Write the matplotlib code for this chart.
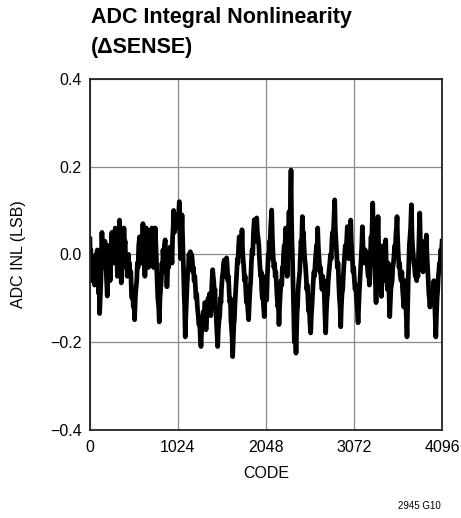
import matplotlib
matplotlib.use("Agg")
import matplotlib.pyplot as plt

# ADC INL (LSB) versus output code
inl_trace = [
    (0, 0.035), (6, -0.02), (10, 0.01), (16, -0.06), (24, -0.03), (30, -0.01),
    (38, -0.05), (46, -0.03), (54, -0.07), (62, -0.04), (70, 0.0), (78, -0.02),
    (86, 0.01), (95, -0.05), (104, -0.09), (110, -0.07), (113, -0.135),
    (120, -0.10), (128, -0.06), (134, 0.0), (140, 0.05), (148, 0.0),
    (154, 0.02), (160, -0.03), (168, -0.01), (174, 0.03), (180, 0.02),
    (188, -0.03), (195, -0.06), (202, -0.095), (208, -0.04), (212, 0.0),
    (217, 0.02), (225, -0.02), (230, -0.01), (235, -0.06), (242, -0.02),
    (248, 0.01), (256, 0.05), (262, 0.0), (268, 0.02), (275, -0.02),
    (282, 0.02), (288, 0.0), (295, 0.06), (302, 0.01), (310, 0.02),
    (320, -0.05), (328, 0.0), (336, 0.03), (345, 0.078), (352, 0.02),
    (358, 0.0), (365, -0.065), (372, -0.02), (380, 0.02), (388, 0.01),
    (396, 0.06), (404, 0.02), (410, 0.03), (415, -0.01), (422, -0.03),
    (428, -0.01), (434, -0.05), (440, -0.03), (448, 0.0), (455, -0.03),
    (460, -0.02), (468, -0.05), (476, -0.04), (484, -0.09), (490, -0.10),
    (498, -0.08), (505, -0.12), (512, -0.10), (520, -0.149),
    (528, -0.10), (535, -0.08), (545, -0.06), (552, -0.02), (560, -0.03),
    (568, 0.02), (578, 0.04), (585, 0.0), (592, 0.01), (600, -0.02),
    (608, 0.02), (617, 0.07), (624, 0.02), (632, -0.01), (640, -0.05),
    (648, 0.0), (656, 0.06), (664, 0.02), (672, 0.03), (680, -0.03),
    (688, 0.0), (696, -0.02), (704, 0.03), (712, 0.02), (721, 0.06),
    (730, 0.0), (740, -0.03), (748, 0.01), (754, 0.0), (760, 0.06),
    (768, 0.02), (775, -0.02), (780, -0.05), (790, -0.10), (800, -0.12),
    (807, -0.154), (815, -0.10), (822, -0.08), (830, -0.06), (838, -0.02),
    (845, -0.04), (850, 0.01), (858, -0.01), (866, 0.02), (876, 0.033),
    (884, -0.02), (890, -0.04), (896, -0.074), (904, -0.04), (910, -0.01),
    (915, -0.03), (922, 0.0), (928, -0.01), (935, 0.017), (942, -0.01),
    (948, 0.0), (955, -0.02), (962, 0.04), (968, 0.06), (974, 0.10),
    (982, 0.05), (990, 0.08), (1000, 0.06), (1008, 0.09), (1014, 0.07),
    (1020, 0.09), (1028, 0.06), (1034, 0.10), (1040, 0.12), (1046, 0.05),
    (1050, 0.02), (1055, -0.01), (1062, 0.03), (1071, 0.09), (1078, 0.04),
    (1084, -0.01), (1090, -0.05), (1096, -0.09), (1102, -0.12),
    (1109, -0.188), (1116, -0.14), (1122, -0.11), (1130, -0.07),
    (1138, -0.04), (1146, -0.03), (1152, 0.0), (1160, -0.01), (1168, 0.006),
    (1176, -0.02), (1182, 0.0), (1190, -0.01), (1198, -0.04), (1205, -0.03),
    (1212, -0.06), (1220, -0.05), (1226, -0.07), (1234, -0.10),
    (1242, -0.09), (1250, -0.12), (1260, -0.14), (1268, -0.16),
    (1276, -0.15), (1284, -0.19), (1292, -0.21), (1300, -0.17),
    (1310, -0.15), (1320, -0.13), (1328, -0.15), (1336, -0.11),
    (1342, -0.11), (1347, -0.14), (1350, -0.172), (1358, -0.14),
    (1366, -0.12), (1375, -0.10), (1382, -0.12), (1390, -0.09),
    (1395, -0.09), (1400, -0.12), (1405, -0.14), (1412, -0.10),
    (1420, -0.06), (1428, -0.035), (1434, -0.05), (1440, -0.06),
    (1448, -0.09), (1455, -0.08), (1460, -0.12), (1468, -0.14),
    (1476, -0.17), (1486, -0.21), (1494, -0.17), (1502, -0.15),
    (1510, -0.14), (1518, -0.10), (1524, -0.11), (1530, -0.08),
    (1540, -0.05), (1548, -0.04), (1555, -0.02), (1563, -0.013),
    (1570, -0.04), (1575, -0.05), (1582, -0.02), (1590, -0.008),
    (1598, -0.03), (1605, -0.06), (1612, -0.05), (1620, -0.09),
    (1628, -0.11), (1634, -0.10), (1640, -0.15), (1648, -0.17),
    (1654, -0.19), (1660, -0.233), (1668, -0.19), (1674, -0.16),
    (1680, -0.15), (1688, -0.11), (1694, -0.09), (1700, -0.07),
    (1708, -0.04), (1716, -0.01), (1722, -0.02), (1730, 0.02), (1737, 0.04),
    (1744, 0.0), (1750, 0.0), (1758, 0.03), (1764, 0.02), (1769, 0.056),
    (1776, 0.01), (1782, -0.01), (1790, -0.03), (1798, -0.06),
    (1806, -0.05), (1815, -0.09), (1822, -0.11), (1830, -0.10),
    (1838, -0.13), (1846, -0.149), (1854, -0.11), (1862, -0.08),
    (1870, -0.06), (1878, -0.02), (1886, 0.01), (1894, 0.0), (1902, 0.05),
    (1912, 0.079), (1918, 0.04), (1925, 0.03), (1932, 0.06), (1940, 0.083),
    (1948, 0.05), (1955, 0.04), (1965, 0.02), (1972, -0.01), (1978, -0.03),
    (1985, -0.05), (1992, -0.04), (1998, -0.08), (2005, -0.10),
    (2012, -0.09), (2020, -0.12), (2028, -0.142), (2036, -0.09),
    (2045, -0.05), (2050, -0.08), (2056, -0.104), (2064, -0.05),
    (2070, -0.02), (2075, 0.0), (2082, -0.01), (2090, 0.03), (2095, 0.02),
    (2102, 0.06), (2108, 0.08), (2114, 0.101), (2122, 0.04), (2130, 0.0),
    (2140, -0.03), (2148, -0.02), (2155, -0.05), (2162, -0.04),
    (2170, -0.07), (2178, -0.10), (2186, -0.12), (2192, -0.11),
    (2199, -0.16), (2206, -0.12), (2214, -0.09), (2225, -0.06),
    (2232, -0.07), (2238, -0.03), (2245, -0.04), (2252, 0.0), (2260, 0.02),
    (2268, 0.01), (2277, 0.06), (2284, 0.01), (2290, -0.02), (2295, -0.05),
    (2302, 0.0), (2308, 0.04), (2316, 0.097), (2322, 0.06), (2330, 0.10),
    (2339, 0.192), (2345, 0.08), (2350, 0.03), (2355, 0.0), (2362, -0.06),
    (2368, -0.12), (2378, -0.2), (2386, -0.16), (2392, -0.19),
    (2397, -0.225), (2404, -0.17), (2410, -0.13), (2415, -0.12),
    (2422, -0.08), (2430, -0.06), (2440, -0.04), (2448, 0.0), (2455, 0.03),
    (2462, 0.02), (2471, 0.086), (2478, 0.04), (2484, 0.05), (2490, 0.02),
    (2498, -0.01), (2505, -0.02), (2515, -0.05), (2522, -0.08),
    (2530, -0.07), (2538, -0.11), (2545, -0.13), (2552, -0.12),
    (2560, -0.16), (2568, -0.179), (2575, -0.14), (2582, -0.12),
    (2590, -0.09), (2598, -0.06), (2606, -0.04), (2612, -0.05),
    (2620, -0.02), (2628, 0.0), (2636, 0.02), (2642, 0.01), (2649, 0.06),
    (2656, 0.02), (2662, 0.0), (2668, -0.02), (2675, -0.04), (2682, -0.03),
    (2690, -0.06), (2700, -0.08), (2708, -0.05), (2714, -0.07),
    (2720, -0.06), (2726, -0.09), (2732, -0.13), (2742, -0.179),
    (2750, -0.13), (2758, -0.10), (2765, -0.09), (2772, -0.06),
    (2780, -0.04), (2790, -0.02), (2798, 0.0), (2806, -0.01), (2815, 0.033),
    (2822, 0.05), (2830, 0.04), (2838, 0.08), (2847, 0.124), (2854, 0.06),
    (2862, 0.03), (2870, 0.0), (2878, -0.03), (2886, -0.02), (2895, -0.07),
    (2902, -0.10), (2910, -0.12), (2917, -0.165), (2924, -0.12),
    (2932, -0.09), (2940, -0.08), (2945, -0.06), (2952, -0.03),
    (2960, -0.01), (2970, 0.02), (2978, 0.0), (2986, 0.03), (2994, 0.063),
    (3000, 0.03), (3006, 0.01), (3012, -0.01), (3020, 0.03), (3026, 0.05),
    (3033, 0.078), (3040, 0.03), (3048, 0.0), (3055, -0.02), (3060, -0.04),
    (3068, -0.03), (3076, -0.06), (3084, -0.08), (3092, -0.07),
    (3100, -0.10), (3108, -0.12), (3119, -0.156), (3126, -0.12),
    (3132, -0.09), (3140, -0.06), (3148, -0.03), (3155, 0.0), (3162, 0.02),
    (3169, 0.063), (3176, 0.02), (3182, 0.0), (3188, -0.01), (3195, -0.02),
    (3202, 0.01), (3210, -0.01), (3220, 0.004), (3228, -0.03),
    (3236, -0.05), (3244, -0.04), (3250, -0.07), (3256, -0.03), (3262, 0.0),
    (3270, 0.04), (3276, 0.02), (3282, 0.06), (3289, 0.117), (3296, 0.05),
    (3302, 0.02), (3310, -0.01), (3316, -0.05), (3322, -0.07),
    (3328, -0.11), (3334, -0.05), (3340, 0.02), (3346, 0.05), (3351, 0.086),
    (3358, 0.02), (3364, -0.01), (3370, -0.04), (3376, -0.03),
    (3382, -0.07), (3390, -0.096), (3396, -0.05), (3402, -0.01),
    (3410, 0.02), (3416, 0.0), (3422, -0.03), (3430, -0.06), (3435, 0.0),
    (3440, 0.033), (3446, -0.02), (3452, -0.05), (3460, -0.08),
    (3465, -0.05), (3470, -0.02), (3476, -0.07), (3482, -0.11),
    (3487, -0.142), (3494, -0.11), (3500, -0.08), (3508, -0.07),
    (3515, -0.06), (3522, -0.03), (3530, -0.02), (3538, 0.0), (3545, 0.02),
    (3552, 0.01), (3560, 0.05), (3566, 0.06), (3572, 0.086), (3578, 0.04),
    (3584, 0.01), (3590, -0.01), (3595, -0.03), (3602, -0.02),
    (3610, -0.05), (3620, -0.06), (3628, -0.04), (3636, -0.08),
    (3644, -0.10), (3650, -0.12), (3656, -0.09), (3665, -0.06),
    (3672, -0.10), (3680, -0.14), (3688, -0.188), (3695, -0.12),
    (3702, -0.06), (3708, -0.02), (3715, 0.02), (3722, 0.04), (3730, 0.06),
    (3739, 0.113), (3745, 0.05), (3752, 0.02), (3760, 0.0), (3768, -0.02),
    (3776, -0.03), (3784, -0.05), (3792, -0.04), (3800, -0.06),
    (3808, -0.04), (3815, -0.05), (3822, 0.0), (3828, 0.04), (3836, 0.094),
    (3842, 0.04), (3848, 0.02), (3855, -0.01), (3862, -0.03), (3868, -0.02),
    (3875, -0.04), (3882, 0.0), (3888, 0.01), (3895, 0.03), (3903, 0.01),
    (3908, 0.02), (3913, 0.044), (3920, 0.0), (3928, -0.03), (3935, -0.06),
    (3942, -0.09), (3948, -0.10), (3955, -0.12), (3962, -0.10),
    (3970, -0.09), (3978, -0.11), (3985, -0.10), (3992, -0.08),
    (4000, -0.06), (4008, -0.10), (4015, -0.14), (4023, -0.188),
    (4030, -0.14), (4038, -0.10), (4045, -0.08), (4052, -0.05),
    (4058, -0.04), (4065, -0.02), (4072, -0.03), (4080, 0.01), (4088, 0.0),
    (4096, 0.03),
]
codes = [c for c, _ in inl_trace]
inl = [v for _, v in inl_trace]

x_ticks = [0, 1024, 2048, 3072, 4096]
y_ticks = [-0.4, -0.2, 0.0, 0.2, 0.4]
y_labels = ["\u22120.4", "\u22120.2", "0.0", "0.2", "0.4"]

plt.rcParams['font.family'] = ['Liberation Sans', 'DejaVu Sans']

fig = plt.figure(figsize=(4.61, 5.18), dpi=100)
ax = fig.add_axes([0.195, 0.170, 0.764, 0.678])

ax.plot(codes, inl, color="black", linewidth=3.4, solid_joinstyle="round")

ax.set_xlim(0, 4096)
ax.set_ylim(-0.4, 0.4)
ax.set_xticks(x_ticks)
ax.set_yticks(y_ticks)
ax.set_xticklabels([str(t) for t in x_ticks])
ax.set_yticklabels(y_labels)
ax.tick_params(length=0, labelsize=11.5)
ax.tick_params(axis="x", pad=7)
ax.tick_params(axis="y", pad=6)
ax.grid(True, color="#8a8a8a", linewidth=0.9)
ax.set_axisbelow(True)
for s in ax.spines.values():
    s.set_linewidth(1.3)
    s.set_color("#222222")

ax.set_xlabel("CODE", fontsize=11.5, labelpad=8)
ax.set_ylabel("ADC INL (LSB)", fontsize=11.5, labelpad=17)

fig.text(0.198, 0.986, "ADC Integral Nonlinearity\n(\u0394SENSE)",
         fontsize=15.5, fontweight="bold", ha="left", va="top",
         linespacing=1.55)
fig.text(0.955, 0.013, "2945 G10", fontsize=7, ha="right", va="bottom")

fig.savefig("out.png", dpi=100)
